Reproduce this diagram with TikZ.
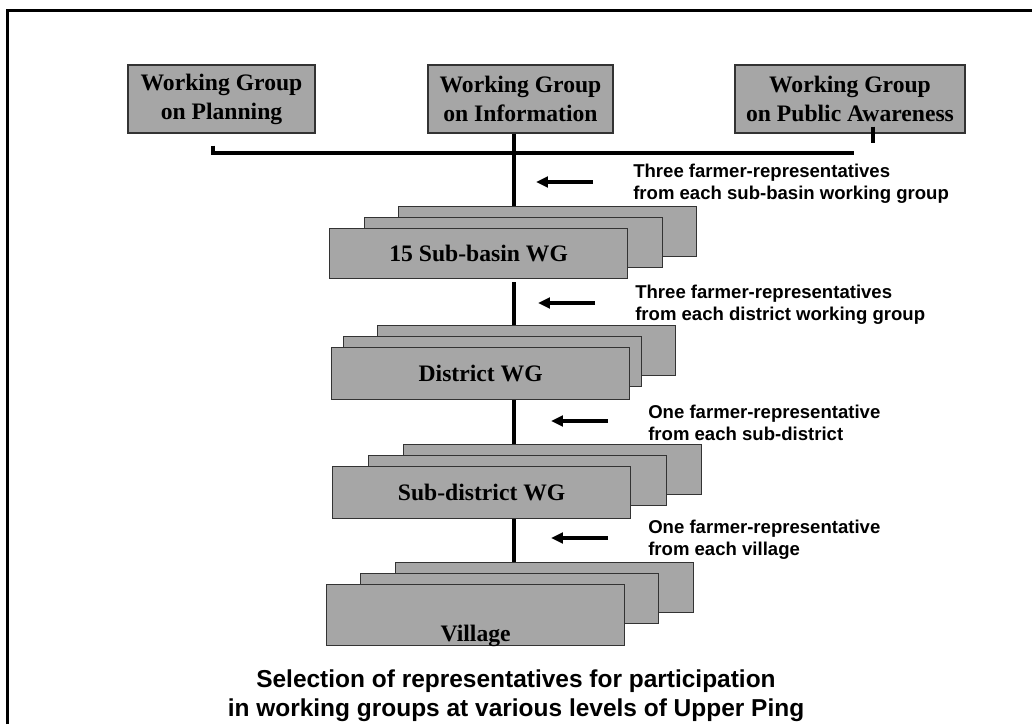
\documentclass[tikz,border=0pt]{standalone}
\usepackage{fontspec}
\setmainfont{Liberation Serif}
\setsansfont{Liberation Sans}
\usetikzlibrary{positioning,calc,arrows.meta}

\definecolor{boxgray}{RGB}{166,166,166}
\newcommand{\upx}{0.025cm}
\newcommand{\wgfont}{\fontsize{16.8}{20.6}\selectfont\bfseries}
\newcommand{\notefont}{\sffamily\bfseries\fontsize{13.2}{15.6}\selectfont}
\newcommand{\titlefont}{\sffamily\bfseries\fontsize{17.4}{20.8}\selectfont}

\begin{document}
\begin{tikzpicture}[x=\upx, y=-\upx,
	wgbox/.style={draw=black!80, line width=0.9pt, fill=boxgray, align=center, font=\wgfont, inner sep=0pt},
	layer/.style={wgbox, minimum width=298*\upx, minimum height=50*\upx, anchor=north west},
	note/.style={font=\notefont, align=left, anchor=west, inner sep=0pt},
	bar/.style={line width=2.2pt},
	feed/.style={line width=2.2pt, -{Triangle[length=8.5pt,width=7.5pt]}}]

\useasboundingbox (0,0) rectangle (1032,724);
\draw[line width=2.1pt] (7.5,724) -- (7.5,10.5) -- (1032,10.5);

	% working groups at the top
	\node[wgbox, minimum width=187*\upx, minimum height=68*\upx] (plan) at (221.5,99) {Working Group\\on Planning};
	\node[wgbox, minimum width=185*\upx, minimum height=68*\upx] (info) at (520.5,99) {Working Group\\on Information};
	\node[wgbox, minimum width=230*\upx, minimum height=68*\upx] (pub) at (850,99) {Working Group\\on Public Awareness};

	% stacks
	\node[layer] (sbback) at (398,206) {};
	\node[layer] (sbmid) at (364,217) {};
	\node[layer] (sbfront) at (329,228) {15 Sub-basin WG};

	\node[layer] (dback) at (377,325) {};
	\node[layer] (dmid) at (343,336) {};
	\node[layer, minimum height=52*\upx] (dfront) at (331,347) {District WG};

	\node[layer] (sdback) at (403,444) {};
	\node[layer] (sdmid) at (368,455) {};
	\node[layer, minimum height=52*\upx] (sdfront) at (332,466) {Sub-district WG};

	\node[layer] (vback) at (395,562) {};
	\node[layer] (vmid) at (360,573) {};
	\node[layer, minimum height=61*\upx] (vfront) at (326,584) {};
	\node[font=\wgfont, anchor=base, inner sep=0pt] (vtext) at ($(vfront.south)+(0,-5)$) {Village};

\coordinate (spine) at (514,0);
\coordinate (barR) at (854,153);

\draw[bar] ([xshift=-8.5*\upx, yshift=-12*\upx]plan.south) |- (barR);
\draw[bar] ([xshift=23*\upx, yshift=7*\upx]pub.south) -- ++(0,16);
\draw[bar] (info.south -| spine) -- (sbback.north -| spine);
\draw[bar] ([yshift=-3*\upx]sbfront.south -| spine) -- (dback.north -| spine);
\draw[bar] (dfront.south -| spine) -- (sdback.north -| spine);
\draw[bar] (sdfront.south -| spine) -- (vback.north -| spine);

	% who is sent upwards
	\node[note] (lab1) at (633,184) {Three farmer-representatives\\from each sub-basin working group};
	\node[note] (lab2) at (635,305) {Three farmer-representatives\\from each district working group};
	\node[note] (lab3) at (648,423) {One farmer-representative\\from each sub-district};
	\node[note] (lab4) at (648,540) {One farmer-representative\\from each village};

\draw[feed] ($(lab1.west)+(-40,-2)$) -- ($(lab1.west)+(-97,-2)$);
\draw[feed] ($(lab2.west)+(-40,-2)$) -- ($(lab2.west)+(-97,-2)$);
\draw[feed] ($(lab3.west)+(-40,-2)$) -- ($(lab3.west)+(-97,-2)$);
\draw[feed] ($(lab4.west)+(-40,-2)$) -- ($(lab4.west)+(-97,-2)$);

\node[font=\titlefont, align=center, anchor=north, inner sep=0pt] (title) at (516,669.5) {Selection of representatives for participation\\in working groups at various levels of Upper Ping};
\end{tikzpicture}
\end{document}
